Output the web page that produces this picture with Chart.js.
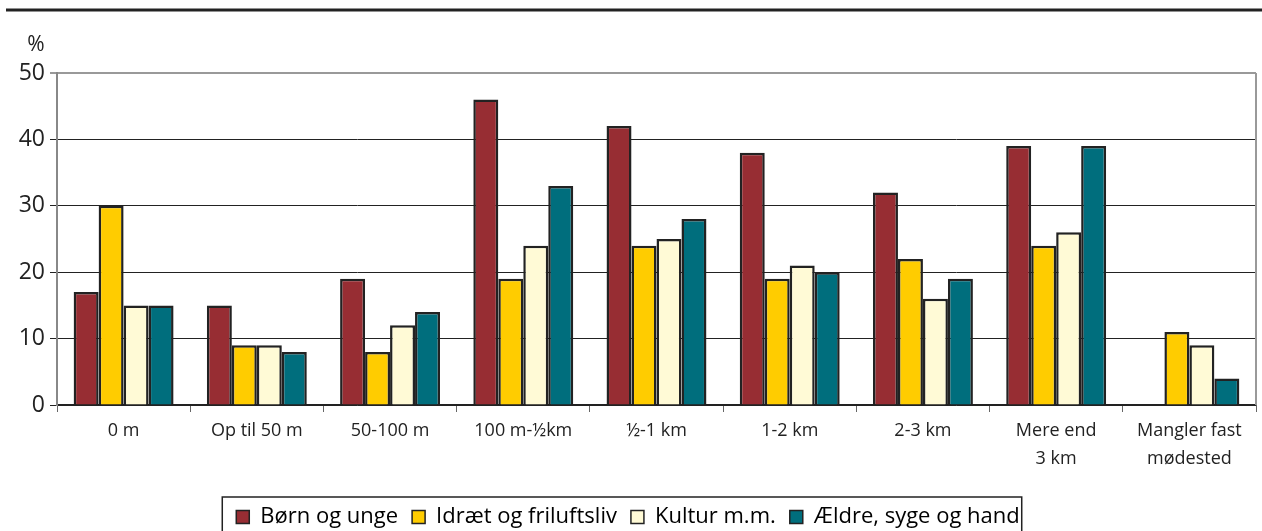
<!DOCTYPE html>
<html>
<head>
<meta charset="utf-8">
<script src="https://cdn.jsdelivr.net/npm/chart.js@4.4.0/dist/chart.umd.min.js"></script>
<style>
  html, body { margin: 0; padding: 0; background: #fff; }
  #wrap { position: relative; width: 1262px; height: 531px; }
</style>
</head>
<body>
<div id="wrap"><canvas id="afstandChart" width="1262" height="531"></canvas></div>
<script>
// categories (distance to meeting place)
const categories = ["0 m", "Op til 50 m", "50-100 m", "100 m-½km", "½-1 km", "1-2 km", "2-3 km", ["Mere end", "3 km"], ["Mangler fast", "mødested"]];

// series values in %
const boernUnge = [17, 15, 19, 46, 42, 38, 32, 39, null];
const idraet = [30, 9, 8, 19, 24, 19, 22, 24, 11];
const kultur = [15, 9, 12, 24, 25, 21, 16, 26, 9];
const aeldre = [15, 8, 14, 33, 28, 20, 19, 39, 4];

const yTicks = [0, 10, 20, 30, 40, 50];

const fontName = "'Open Sans', 'Noto Sans', sans-serif";

// extra lines: top rule, right border, % label, legend frame
const decoPlugin = {
  id: "deco",
  afterDraw(chart) {
    const c = chart.ctx;
    const area = chart.chartArea;
    c.save();
    // top rule
    c.strokeStyle = "#222";
    c.lineWidth = 3;
    c.beginPath();
    c.moveTo(6, 10);
    c.lineTo(1262, 10);
    c.stroke();
    // right border
    c.strokeStyle = "#999";
    c.lineWidth = 2;
    c.beginPath();
    c.moveTo(area.right, area.top);
    c.lineTo(area.right, area.bottom);
    c.stroke();
    // % label
    c.fillStyle = "#222";
    c.font = "21px " + fontName;
    c.textAlign = "center";
    c.textBaseline = "middle";
    c.fillText("%", 36, 45);
    // legend frame
    const boxes = chart.legend.legendHitBoxes;
    if (boxes && boxes.length) {
      let minX = Infinity, maxX = -Infinity, midY = 0;
      boxes.forEach((b) => {
        minX = Math.min(minX, b.left);
        maxX = Math.max(maxX, b.left + b.width);
        midY = b.top + b.height / 2;
      });
      c.strokeStyle = "#222";
      c.lineWidth = 1.5;
      c.strokeRect(minX - 14, midY - 20, maxX - minX + 16, 60);
    }
    c.restore();
  }
};

const ctx = document.getElementById("afstandChart").getContext("2d");

const afstandChart = new Chart(ctx, {
  type: "bar",
  data: {
    labels: categories,
    datasets: [
      { label: "Børn og unge", data: boernUnge, backgroundColor: "#972D33" },
      { label: "Idræt og friluftsliv", data: idraet, backgroundColor: "#FFCC00" },
      { label: "Kultur m.m.", data: kultur, backgroundColor: "#FFFAD6" },
      { label: "Ældre, syge og hand", data: aeldre, backgroundColor: "#006E7D" },
    ],
  },
  options: {
    responsive: false,
    animation: false,
    layout: { padding: { top: 73, right: 6, left: 0, bottom: -7 } },
    datasets: {
      bar: {
        borderColor: "#222",
        borderWidth: 2.5,
        categoryPercentage: 0.75,
        barPercentage: 1,
      },
    },
    plugins: {
      tooltip: { enabled: false },
      legend: {
        position: "bottom",
        labels: {
          color: "#222",
          font: { family: fontName, size: 22 },
          boxWidth: 13,
          boxHeight: 13,
          padding: 14,
          generateLabels(chart) {
            return chart.data.datasets.map((ds, i) => ({
              text: ds.label,
              fillStyle: ds.backgroundColor,
              strokeStyle: "#222",
              lineWidth: 1.5,
              datasetIndex: i,
            }));
          },
        },
      },
    },
    scales: {
      x: {
        grid: {
          offset: true,
          drawOnChartArea: false,
          drawTicks: true,
          tickLength: 7,
          color: "#666",
        },
        border: { color: "#222", width: 1.5 },
        ticks: {
          color: "#222",
          font: { family: fontName, size: 18, lineHeight: 1.55 },
          maxRotation: 0,
          autoSkip: false,
          padding: 5,
        },
        afterFit(scale) {
          scale.height = 87;
        },
      },
      y: {
        min: 0,
        max: 50,
        afterBuildTicks(scale) {
          scale.ticks = yTicks.map((v) => ({ value: v }));
        },
        grid: {
          color: (c) => (c.tick && c.tick.value === 50 ? "#999" : "#222"),
          lineWidth: (c) => (c.tick && c.tick.value === 50 ? 2 : 1),
          tickLength: 7,
        },
        border: { color: "#888", width: 2 },
        ticks: {
          color: "#222",
          font: { family: fontName, size: 23 },
          padding: 5,
        },
        afterFit(scale) {
          scale.width = 57;
        },
      },
    },
  },
  plugins: [decoPlugin],
});
</script>
</body>
</html>
